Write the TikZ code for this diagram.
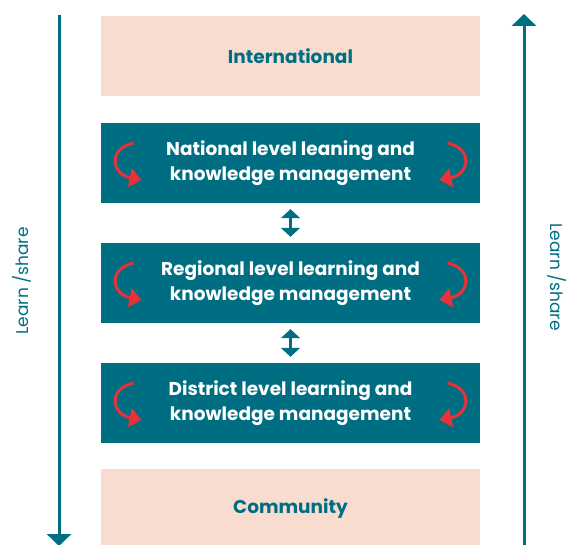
\documentclass[tikz,border=0pt]{standalone}
\usepackage{fontspec}
\setmainfont{Poppins}
\usepackage{xcolor}
\usepackage{tikz}
\usetikzlibrary{calc}
\usetikzlibrary{arrows.meta}
\definecolor{teal}{HTML}{006E82}
\definecolor{peach}{HTML}{F9DCD0}
\definecolor{redarrow}{HTML}{E63238}
\def\bendarrows#1{
	\draw[bendarrow] ($(#1)+(-157,-20)$) .. controls +(-26,6) and +(-30,-6) .. ($(#1)+(-149,17)$);
	\draw[bendarrow] ($(#1)+(157,-20)$) .. controls +(26,6) and +(30,-6) .. ($(#1)+(149,17)$);
	}

\begin{document}
\begin{tikzpicture}[x=1pt,y=-1pt,
	levelbox/.style={fill=teal,text=white,minimum width=379pt,minimum height=80pt,inner sep=0pt,align=center,font=\bfseries\fontsize{18.5}{25}\selectfont},
	outerbox/.style={fill=peach,text=teal,minimum width=379pt,minimum height=80pt,inner sep=0pt,align=center,font=\bfseries\fontsize{18.5}{25}\selectfont},
	bendarrow/.style={redarrow,line width=3pt,-{Triangle[width=19pt,length=12pt]}},
	updown/.style={teal,line width=2.5pt,{Triangle[width=19pt,length=9pt]}-{Triangle[width=19pt,length=9pt]},shorten <=6pt,shorten >=6pt},
	sidearrow/.style={teal,line width=3pt,-{Triangle[width=24pt,length=12pt]}},
	sidelabel/.style={text=teal,font=\fontsize{17}{18}\selectfont}]
	\useasboundingbox (0,0) rectangle (567,545);
	\node[outerbox] (intl) at (290.5,56) {International};
	\node[levelbox] (natl) at (290.5,163) {National level leaning and\\knowledge management};
	\node[levelbox] (regl) at (290.5,283) {Regional level learning and\\knowledge management};
	\node[levelbox] (dist) at (290.5,403) {District level learning and\\knowledge management};
	\node[outerbox] (comm) at (290.5,509) {Community};
	\bendarrows{natl}
	\bendarrows{regl}
	\bendarrows{dist}
	\draw[updown] (natl.south) -- (regl.north);
	\draw[updown] (regl.south) -- (dist.north);
	% side arrows
	\coordinate (ltop) at (59,15);
	\coordinate (lbot) at (59,546);
	\coordinate (rbot) at (524,546);
	\coordinate (rtop) at (524,14);
	\draw[sidearrow] (ltop) -- (lbot);
	\draw[sidearrow] (rbot) -- (rtop);
	\node[sidelabel,rotate=90] (llabel) at (22,281) {Learn /share};
	\node[sidelabel,rotate=-90] (rlabel) at (557,277) {Learn /share};
\end{tikzpicture}
\end{document}
